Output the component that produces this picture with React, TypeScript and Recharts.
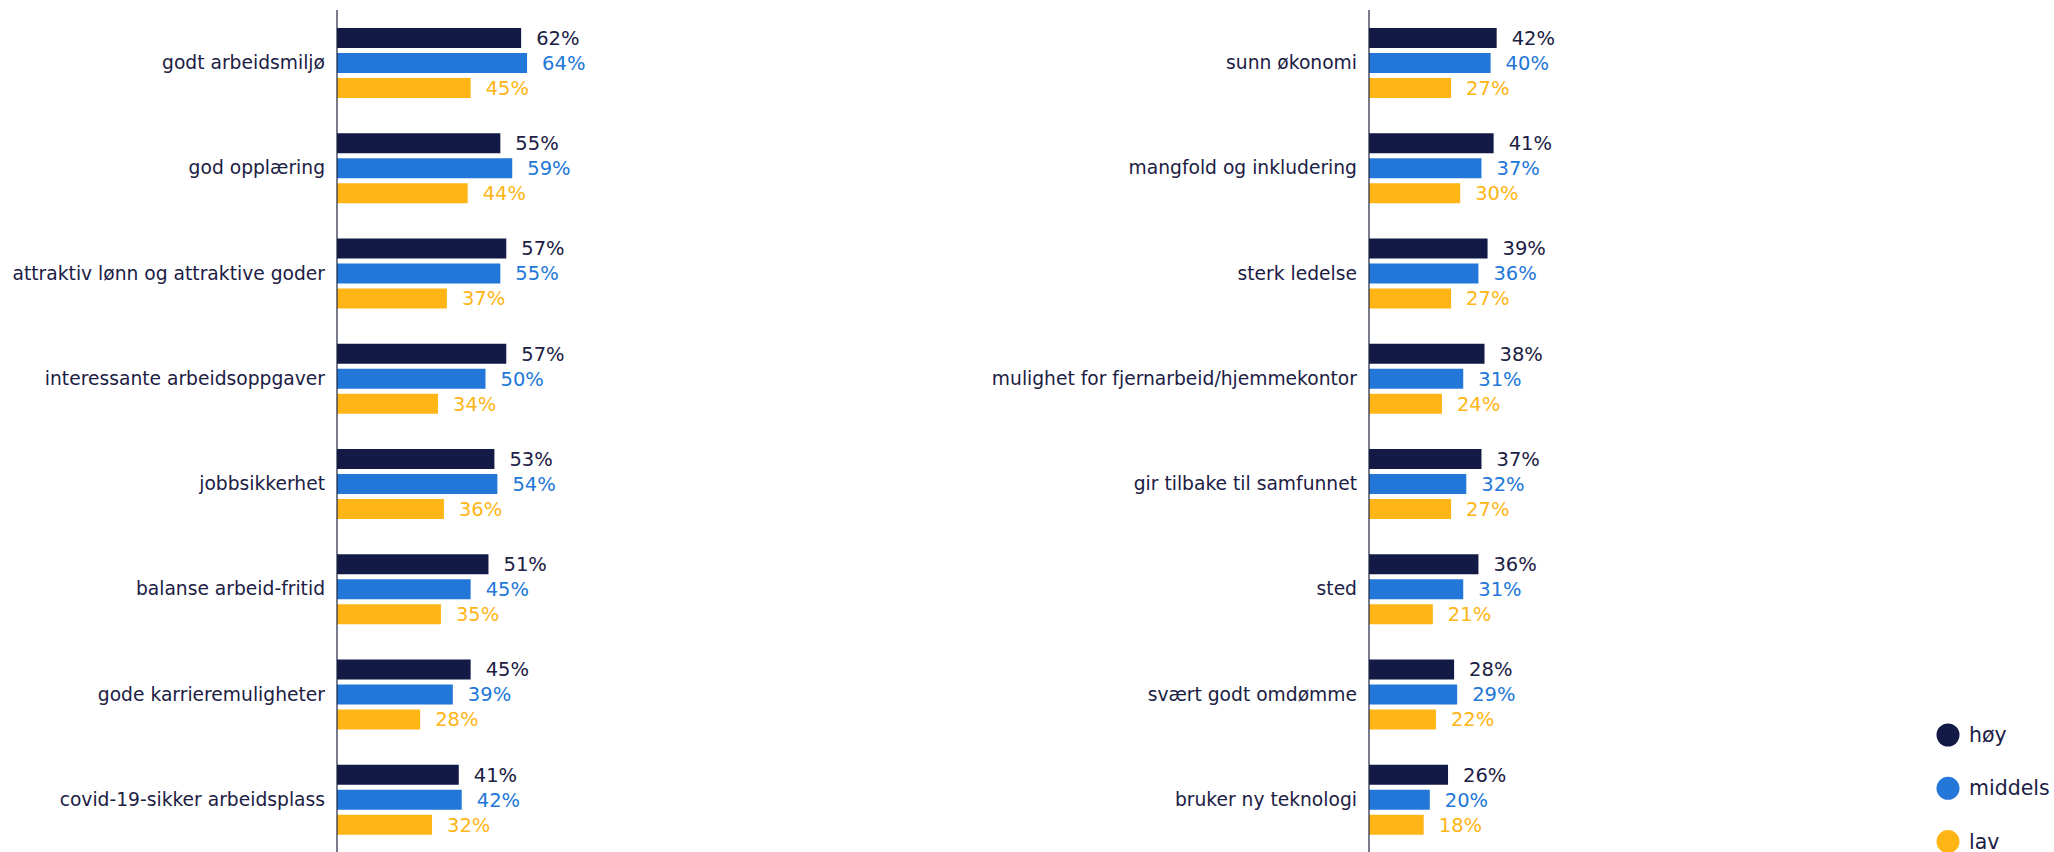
import React from 'react';
import { BarChart, Bar, XAxis, YAxis, LabelList } from 'recharts';

const leftCategories = [
  'godt arbeidsmiljø',
  'god opplæring',
  'attraktiv lønn og attraktive goder',
  'interessante arbeidsoppgaver',
  'jobbsikkerhet',
  'balanse arbeid-fritid',
  'gode karrieremuligheter',
  'covid-19-sikker arbeidsplass',
];
const leftHoy = [62, 55, 57, 57, 53, 51, 45, 41];
const leftMiddels = [64, 59, 55, 50, 54, 45, 39, 42];
const leftLav = [45, 44, 37, 34, 36, 35, 28, 32];

const rightCategories = [
  'sunn økonomi',
  'mangfold og inkludering',
  'sterk ledelse',
  'mulighet for fjernarbeid/hjemmekontor',
  'gir tilbake til samfunnet',
  'sted',
  'svært godt omdømme',
  'bruker ny teknologi',
];
const rightHoy = [42, 41, 39, 38, 37, 36, 28, 26];
const rightMiddels = [40, 37, 36, 31, 32, 31, 29, 20];
const rightLav = [27, 30, 27, 24, 27, 21, 22, 18];

const seriesNames = ['høy', 'middels', 'lav'];

const NAVY = '#131A45';
const BLUE = '#2277D8';
const AMBER = '#FEB515';
const TEXT = '#1B2044';
const FONT = '"DejaVu Sans", Verdana, sans-serif';

const build = (cats: string[], h: number[], m: number[], l: number[]) =>
  cats.map((name, i) => ({ name, hoy: h[i], middels: m[i], lav: l[i] }));

const leftData = build(leftCategories, leftHoy, leftMiddels, leftLav);
const rightData = build(rightCategories, rightHoy, rightMiddels, rightLav);

const CategoryTick = (props: any) => {
  const { x, y, payload } = props;
  return (
    <text
      x={x}
      y={y}
      textAnchor="end"
      dominantBaseline="central"
      fontFamily={FONT}
      fontSize={18.7}
      fill={TEXT}
    >
      {payload.value}
    </text>
  );
};

const fmt = (v: any) => `${v}%`;

const Panel = ({ data, width, axisWidth, plotWidth }: any) => (
  <BarChart
    layout="vertical"
    width={width}
    height={852}
    data={data}
    margin={{ top: 10, right: width - axisWidth - plotWidth, bottom: 0, left: 0 }}
    barSize={20}
    barGap={5}
  >
    <XAxis type="number" domain={[0, 100]} hide />
    <YAxis
      type="category"
      dataKey="name"
      width={axisWidth}
      axisLine={{ stroke: '#1E2440', strokeWidth: 1.2 }}
      tickLine={false}
      tickSize={0}
      tickMargin={12}
      interval={0}
      tick={<CategoryTick />}
    />
    <Bar dataKey="hoy" name={seriesNames[0]} fill={NAVY} isAnimationActive={false}>
      <LabelList dataKey="hoy" position="right" offset={15} formatter={fmt} fill={TEXT} fontFamily={FONT} fontSize={19.5} />
    </Bar>
    <Bar dataKey="middels" name={seriesNames[1]} fill={BLUE} isAnimationActive={false}>
      <LabelList dataKey="middels" position="right" offset={15} formatter={fmt} fill={BLUE} fontFamily={FONT} fontSize={19.5} />
    </Bar>
    <Bar dataKey="lav" name={seriesNames[2]} fill={AMBER} isAnimationActive={false}>
      <LabelList dataKey="lav" position="right" offset={15} formatter={fmt} fill={AMBER} fontFamily={FONT} fontSize={19.5} />
    </Bar>
  </BarChart>
);

const legendColors = [NAVY, BLUE, AMBER];

export default function App() {
  return (
    <div style={{ position: 'absolute', left: 0, top: 0, width: 2054, height: 852, background: '#fff', overflow: 'hidden' }}>
      <div style={{ position: 'absolute', left: 0, top: 0 }}>
        <Panel data={leftData} width={700} axisWidth={337} plotWidth={297} />
      </div>
      <div style={{ position: 'absolute', left: 700, top: 0 }}>
        <Panel data={rightData} width={1000} axisWidth={669} plotWidth={304} />
      </div>
      <svg style={{ position: 'absolute', left: 1900, top: 700 }} width={154} height={152}>
        {seriesNames.map((n, i) => (
          <g key={n}>
            <circle cx={48} cy={35 + i * 53.3} r={11.5} fill={legendColors[i]} />
            <text x={69} y={35 + i * 53.3} dominantBaseline="central" fontFamily={FONT} fontSize={20.5} fill={TEXT}>
              {n}
            </text>
          </g>
        ))}
      </svg>
    </div>
  );
}
